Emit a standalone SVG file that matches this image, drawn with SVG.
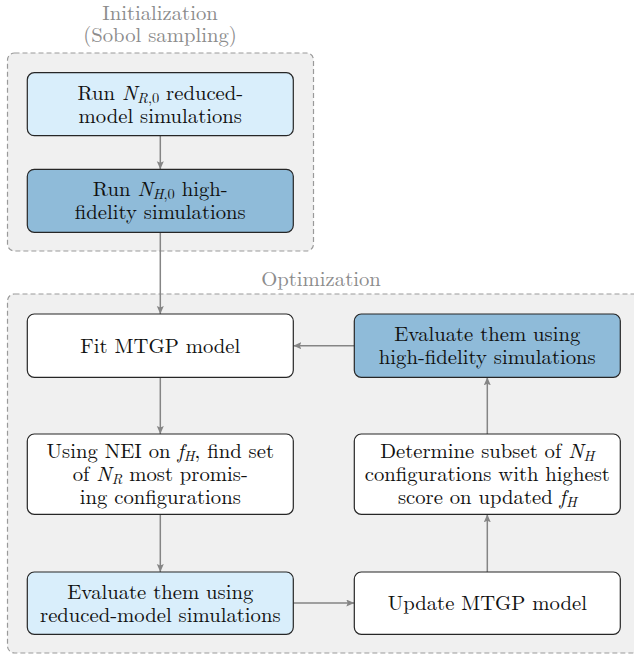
<svg xmlns="http://www.w3.org/2000/svg" width="634" height="656" viewBox="0 0 634 656">
<style>
.grp{fill:#f0f0f0;stroke:#9a9a9a;stroke-width:1.2;stroke-dasharray:5 3}
.node{stroke:#262626;stroke-width:1.2}
.white{fill:#ffffff}
.light{fill:#d9eefb}
.dark{fill:#8fbbd9}
text{font-family:"Latin Modern Roman",serif;font-size:20.7px;fill:#111111;text-anchor:middle}
.title{fill:#8c8c8c}
.it{font-style:italic}
.sub{font-size:14.5px}
.edge{stroke:#858585;stroke-width:1.5;fill:none;marker-end:url(#ah)}
</style>
<defs>
<marker id="ah" markerUnits="userSpaceOnUse" markerWidth="10" markerHeight="8" refX="8" refY="3.5" orient="auto">
<path d="M0,0 L8,3.5 L0,7 L1.5,3.5 z" fill="#858585"/>
</marker>
</defs>
<rect width="634" height="656" fill="#ffffff"/>

<g id="group-init">
<rect class="grp" x="7.5" y="53" width="306" height="198" rx="7"/>
<text class="title" x="160" y="20">Initialization</text>
<text class="title" x="160" y="42.3">(Sobol sampling)</text>
</g>
<g id="group-opt">
<rect class="grp" x="7.5" y="294" width="640" height="359" rx="7"/>
<text class="title" x="321" y="286">Optimization</text>
</g>

<g id="connectors">
<line class="edge" x1="160.3" y1="135.7" x2="160.3" y2="169.3"/>
<line class="edge" x1="160.3" y1="232.3" x2="160.3" y2="314"/>
<line class="edge" x1="160.3" y1="377.3" x2="160.3" y2="434"/>
<line class="edge" x1="160.3" y1="514.3" x2="160.3" y2="572"/>
<line class="edge" x1="293.3" y1="603" x2="354.3" y2="603"/>
<line class="edge" x1="487.3" y1="572" x2="487.3" y2="514.3"/>
<line class="edge" x1="487.3" y1="434" x2="487.3" y2="377.3"/>
<line class="edge" x1="354.3" y1="345.7" x2="293.3" y2="345.7"/>
</g>

<g id="n-reduced-init">
<rect class="node light" x="27.3" y="72.7" width="266" height="63" rx="7"/>
<text x="160.3" y="99.7">Run <tspan class="it">N</tspan><tspan class="sub" dy="3"><tspan class="it">R</tspan>,0</tspan><tspan dy="-3"> reduced-</tspan></text>
<text x="160.3" y="122.7">model simulations</text>
</g>

<g id="n-high-init">
<rect class="node dark" x="27.3" y="169.3" width="266" height="63" rx="7"/>
<text x="160.3" y="196.3">Run <tspan class="it">N</tspan><tspan class="sub" dy="3"><tspan class="it">H</tspan>,0</tspan><tspan dy="-3"> high-</tspan></text>
<text x="160.3" y="219.3">fidelity simulations</text>
</g>

<g id="n-fit">
<rect class="node white" x="27.3" y="314" width="266" height="63.3" rx="7"/>
<text x="160.3" y="352.7">Fit MTGP model</text>
</g>

<g id="n-eval-high">
<rect class="node dark" x="354.3" y="314" width="266" height="63.3" rx="7"/>
<text x="487.3" y="341.2">Evaluate them using</text>
<text x="487.3" y="364.2">high-fidelity simulations</text>
</g>

<g id="n-nei">
<rect class="node white" x="27.3" y="434" width="266" height="80.3" rx="7"/>
<text x="160.3" y="458.2">Using NEI on <tspan class="it">f</tspan><tspan class="sub it" dy="3">H</tspan><tspan dy="-3">, find set</tspan></text>
<text x="160.3" y="481.2">of <tspan class="it">N</tspan><tspan class="sub it" dy="3">R</tspan><tspan dy="-3"> most promis-</tspan></text>
<text x="160.3" y="504.2">ing configurations</text>
</g>

<g id="n-determine">
<rect class="node white" x="354.3" y="434" width="266" height="80.3" rx="7"/>
<text x="487.3" y="458.2">Determine subset of <tspan class="it">N</tspan><tspan class="sub it" dy="3">H</tspan></text>
<text x="487.3" y="481.2">configurations with highest</text>
<text x="487.3" y="504.2">score on updated <tspan class="it">f</tspan><tspan class="sub it" dy="3">H</tspan></text>
</g>

<g id="n-eval-reduced">
<rect class="node light" x="27.3" y="572" width="266" height="62.3" rx="7"/>
<text x="160.3" y="598.7">Evaluate them using</text>
<text x="160.3" y="621.7">reduced-model simulations</text>
</g>

<g id="n-update">
<rect class="node white" x="354.3" y="572" width="266" height="62.3" rx="7"/>
<text x="487.3" y="610.2">Update MTGP model</text>
</g>
</svg>
